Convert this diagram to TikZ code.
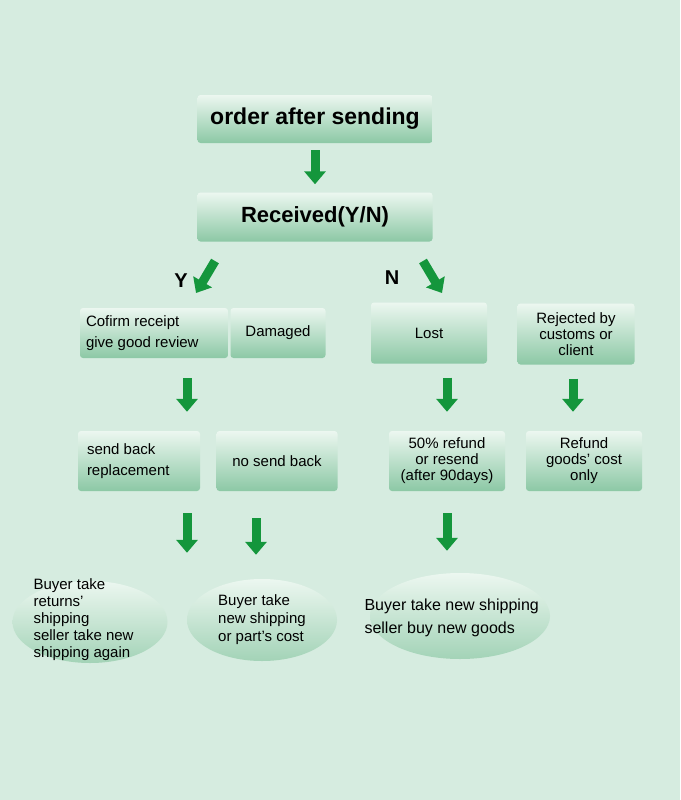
\documentclass[tikz,border=0pt]{standalone}
\usepackage{fontspec}
\setmainfont{Liberation Sans}
\usetikzlibrary{arrows.meta,positioning,shapes.geometric}
\definecolor{bgmint}{RGB}{214,236,224}
\definecolor{boxtop}{RGB}{236,247,240}
\definecolor{boxbot}{RGB}{140,200,165}
\definecolor{arrgreen}{RGB}{20,150,60}
\tikzset{
	stage/.style={
		rectangle,
		rounded corners=3pt,
		top color=boxtop,
		bottom color=boxbot,
		align=center,
		font=\fontsize{15}{17}\selectfont,
		inner sep=2pt
	},
	outcome/.style={
		ellipse,
		top color=boxtop,
		bottom color=boxbot!80,
		align=left,
		font=\fontsize{15}{17}\selectfont
	},
	flow/.style={
		-{Triangle[width=21pt,length=13pt]},
		line width=9pt,
		draw=arrgreen
	}
}
\begin{document}
\begin{tikzpicture}[x=1pt,y=-1pt]
\fill[bgmint] (0,0) rectangle (680,800);
\useasboundingbox (0,0) rectangle (680,800);
% top of the chart
\node [stage, minimum width=235pt, minimum height=48pt, font=\fontsize{23}{25}\selectfont\bfseries] (order) at (315,119) {order after sending};
\node [stage, minimum width=235pt, minimum height=49pt, font=\fontsize{22}{24}\selectfont\bfseries] (received) at (315,217) {Received(Y/N)};
\draw [flow, shorten <=7pt, shorten >=8pt] (order) -- (received);
\node [font=\fontsize{20}{22}\selectfont\bfseries] (yes) at (181,281) {Y};
\node [font=\fontsize{20}{22}\selectfont\bfseries] (no) at (392,278) {N};
\coordinate (yesfrom) at (215,261);
\coordinate (yesto) at (196,293);
\coordinate (nofrom) at (423,261);
\coordinate (noto) at (442,293);
\draw [flow] (yesfrom) -- (yesto);
\draw [flow] (nofrom) -- (noto);
% second row
\node [stage, minimum width=148pt, minimum height=50pt, align=flush left, text width=136pt] (confirm) at (154,333) {Cofirm receipt\\[4pt]give good review};
\node [stage, minimum width=95pt, minimum height=50pt] (damaged) at (278,333) {Damaged};
\node [stage, minimum width=116pt, minimum height=61pt] (lost) at (429,333) {Lost};
\node [stage, minimum width=117pt, minimum height=61pt, font=\fontsize{15}{16}\selectfont] (rejected) at (576,334) {Rejected by\\customs or\\client};
% third row
\node [stage, minimum width=122pt, minimum height=60pt, align=flush left, text width=104pt] (sendback) at (139,461) {send back\\[4pt]replacement};
\node [stage, minimum width=121pt, minimum height=60pt] (nosend) at (277,461) {no send back};
\node [stage, minimum width=116pt, minimum height=60pt, font=\fontsize{15}{16}\selectfont] (partial) at (447,461) {50\% refund\\or resend\\(after 90days)};
\node [stage, minimum width=116pt, minimum height=60pt, font=\fontsize{15}{16}\selectfont] (refund) at (584,461) {Refund\\goods' cost\\only};
\draw [flow, shorten <=20pt, shorten >=19pt] (187,358) -- (sendback.north -| 187,0);
\draw [flow, shorten <=14pt, shorten >=19pt] (lost.south -| 447,0) -- (partial.north);
\draw [flow, shorten <=14pt, shorten >=19pt] (rejected.south -| 573,0) -- (refund.north -| 573,0);
% outcomes
\node [outcome, minimum width=155pt, minimum height=82pt] (returns) at (90,622) {};
\node [font=\fontsize{15}{17}\selectfont, align=left, anchor=west] (returnstext) at (30,620) {Buyer take\\returns'\\shipping\\seller take new\\shipping again};
\node [outcome, minimum width=150pt, minimum height=82pt, font=\fontsize{15}{18}\selectfont] (parts) at (262,620) {Buyer take\\new shipping\\or part's cost};
\node [outcome, minimum width=180pt, minimum height=86pt] (newgoods) at (460,616) {};
\node [font=\fontsize{16}{18}\selectfont, align=left, anchor=west] (newgoodstext) at (361,618) {Buyer take new shipping\\[5pt]seller buy new goods};
\draw [flow, shorten <=22pt, shorten >=28pt] (sendback.south -| 187,0) -- (returns.north -| 187,0);
\draw [flow, shorten <=27pt, shorten >=24pt] (nosend.south -| 256,0) -- (parts.north -| 256,0);
\draw [flow, shorten <=22pt, shorten >=22pt] (partial.south) -- (newgoods.north -| 447,0);
\end{tikzpicture}
\end{document}
